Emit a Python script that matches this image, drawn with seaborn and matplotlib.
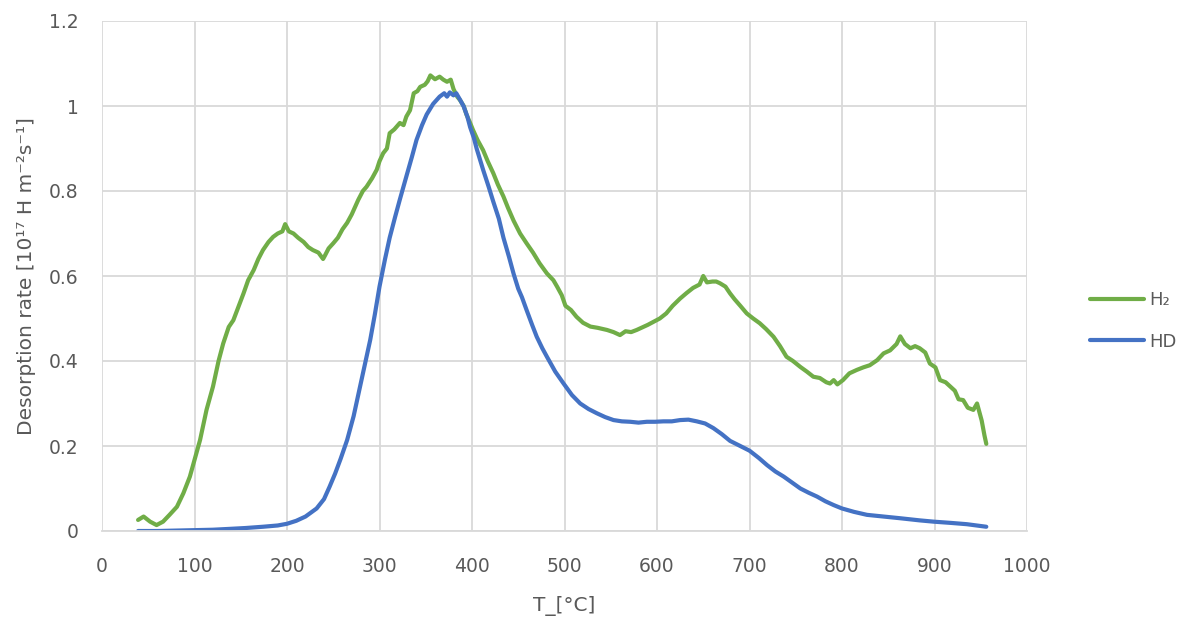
import matplotlib
matplotlib.use("Agg")
import matplotlib.pyplot as plt
import seaborn as sns
import pandas as pd

# ---- data ----
h2_T = [39, 45, 52, 59, 66, 73, 81, 88, 95, 100, 106, 113, 120, 126, 131, 137, 142, 148, 153, 158,
        164, 169, 174, 180, 185, 190, 195, 198, 202, 207, 212, 218, 223, 228, 234, 239, 241, 245, 250,
        255, 260, 265, 270, 277, 282, 286, 292, 297, 300, 304, 308, 311, 316, 322, 326, 329, 333, 337,
        341, 344, 349, 352, 355, 360, 365, 369, 373, 377, 380, 384, 387, 391, 394, 398, 401, 406, 412,
        417, 423, 428, 434, 439, 445, 452, 459, 466, 473, 481, 488, 492, 497, 501, 507, 513, 520, 528,
        536, 546, 553, 560, 566, 572, 578, 585, 590, 596, 603, 610, 617, 625, 632, 639, 646, 650, 654,
        660, 664, 668, 674, 679, 684, 690, 697, 704, 711, 718, 726, 733, 740, 747, 755, 762, 769, 776,
        783, 787, 791, 795, 801, 808, 816, 823, 830, 838, 845, 852, 859, 863, 868, 874, 879, 884, 890,
        895, 901, 906, 912, 917, 922, 926, 931, 936, 942, 946, 951, 954, 956]
h2_rate = [0.026, 0.034, 0.022, 0.014, 0.022, 0.038, 0.057, 0.089, 0.128, 0.167, 0.214, 0.285, 0.34,
           0.40, 0.441, 0.48, 0.496, 0.53, 0.559, 0.59, 0.614, 0.64, 0.661, 0.68, 0.692, 0.70, 0.705,
           0.722, 0.705, 0.70, 0.69, 0.68, 0.668, 0.661, 0.655, 0.64, 0.648, 0.665, 0.677, 0.69, 0.71,
           0.725, 0.745, 0.779, 0.80, 0.81, 0.83, 0.85, 0.87, 0.889, 0.90, 0.936, 0.945, 0.96, 0.955,
           0.975, 0.99, 1.03, 1.035, 1.045, 1.05, 1.058, 1.072, 1.063, 1.069, 1.062, 1.057, 1.062, 1.04,
           1.022, 1.014, 1.0, 0.98, 0.96, 0.944, 0.92, 0.896, 0.87, 0.842, 0.815, 0.787, 0.76, 0.73,
           0.70, 0.677, 0.655, 0.63, 0.606, 0.59, 0.575, 0.555, 0.53, 0.52, 0.504, 0.49, 0.481, 0.478,
           0.473, 0.468, 0.461, 0.47, 0.468, 0.473, 0.48, 0.485, 0.492, 0.50, 0.512, 0.53, 0.547, 0.56,
           0.572, 0.58, 0.60, 0.585, 0.587, 0.587, 0.583, 0.575, 0.559, 0.545, 0.53, 0.512, 0.50, 0.489,
           0.475, 0.457, 0.435, 0.41, 0.40, 0.386, 0.375, 0.363, 0.36, 0.35, 0.347, 0.355, 0.345, 0.355,
           0.371, 0.379, 0.385, 0.39, 0.402, 0.418, 0.425, 0.44, 0.458, 0.44, 0.43, 0.435, 0.43, 0.42,
           0.394, 0.385, 0.355, 0.35, 0.34, 0.33, 0.31, 0.308, 0.29, 0.285, 0.30, 0.26, 0.225, 0.205]

hd_T = [39, 60, 80, 100, 120, 138, 155, 174, 190, 200, 210, 220, 232, 240, 246, 252, 258, 265, 272,
        279, 285, 290, 295, 300, 306, 311, 317, 322, 329, 335, 340, 346, 351, 358, 365, 370, 373, 376,
        380, 383, 387, 391, 395, 398, 402, 405, 412, 418, 423, 429, 434, 440, 445, 450, 454, 459, 465,
        470, 476, 481, 490, 499, 508, 517, 526, 535, 544, 553, 562, 571, 580, 589, 598, 607, 616, 625,
        634, 643, 652, 661, 670, 679, 690, 700, 710, 719, 728, 737, 746, 755, 764, 773, 782, 791, 800,
        813, 827, 845, 863, 884, 899, 918, 935, 956]
hd_rate = [0.0, 0.0, 0.001, 0.002, 0.003, 0.005, 0.007, 0.01, 0.013, 0.017, 0.024, 0.034, 0.053,
           0.075, 0.104, 0.135, 0.17, 0.214, 0.27, 0.34, 0.40, 0.45, 0.51, 0.575, 0.64, 0.69, 0.74,
           0.78, 0.834, 0.88, 0.92, 0.955, 0.98, 1.005, 1.022, 1.03, 1.022, 1.032, 1.025, 1.03, 1.015,
           0.999, 0.975, 0.95, 0.925, 0.90, 0.85, 0.81, 0.775, 0.735, 0.69, 0.645, 0.605, 0.57, 0.55,
           0.52, 0.485, 0.457, 0.43, 0.41, 0.375, 0.347, 0.32, 0.30, 0.287, 0.277, 0.268, 0.261, 0.258,
           0.257, 0.255, 0.257, 0.257, 0.258, 0.258, 0.261, 0.262, 0.258, 0.253, 0.242, 0.228, 0.212,
           0.20, 0.189, 0.172, 0.155, 0.14, 0.128, 0.114, 0.10, 0.09, 0.081, 0.07, 0.061, 0.053, 0.045,
           0.038, 0.034, 0.03, 0.025, 0.022, 0.019, 0.016, 0.01]

series_names = ["H₂", "HD"]
series_colors = ["#70ad47", "#4472c4"]
x_ticks = [0, 100, 200, 300, 400, 500, 600, 700, 800, 900, 1000]
y_ticks = [0, 0.2, 0.4, 0.6, 0.8, 1.0, 1.2]
y_tick_labels = ["0", "0.2", "0.4", "0.6", "0.8", "1", "1.2"]
x_label = "T_[°C]"
y_label = "Desorption rate [10¹⁷ H m⁻²s⁻¹]"

df = pd.concat([
    pd.DataFrame({"T": h2_T, "rate": h2_rate, "series": series_names[0]}),
    pd.DataFrame({"T": hd_T, "rate": hd_rate, "series": series_names[1]}),
], ignore_index=True)

sns.set_theme(style="white")
plt.rcParams["font.family"] = ["DejaVu Sans"]
text_color = "#595959"
grid_color = "#d9d9d9"

fig = plt.figure(figsize=(11.83, 6.19), dpi=100)
ax = fig.add_axes([102 / 1183, 1 - 531 / 619, 925 / 1183, 510 / 619])

sns.lineplot(data=df, x="T", y="rate", hue="series", hue_order=series_names,
             palette=dict(zip(series_names, series_colors)), sort=False, estimator=None,
             linewidth=3.0, ax=ax, legend=False)

ax.set_xlim(0, 1000)
ax.set_ylim(0, 1.2)
ax.set_xticks(x_ticks)
ax.set_xticklabels([str(t) for t in x_ticks])
ax.set_yticks(y_ticks)
ax.set_yticklabels(y_tick_labels)
ax.grid(True, color=grid_color, linewidth=1.3)
ax.set_axisbelow(True)
for s in ["top", "right", "left"]:
    ax.spines[s].set_visible(False)
ax.spines["bottom"].set_color(grid_color)
ax.spines["bottom"].set_linewidth(1.3)
ax.tick_params(axis="x", length=0, labelsize=13.5, colors=text_color, pad=19)
ax.tick_params(axis="y", length=0, labelsize=13.5, colors=text_color, pad=17)
ax.set_xlabel(x_label, fontsize=14.5, color=text_color, labelpad=14)
ax.set_ylabel(y_label, fontsize=14.5, color=text_color, labelpad=9)

handles = [plt.Line2D([], [], color=c, linewidth=3.0) for c in series_colors]
fig.legend(handles, series_names, loc="center left", bbox_to_anchor=(1074 / 1183, 1 - 321 / 619),
           frameon=False, fontsize=13, labelcolor=text_color, handlelength=3.0,
           handletextpad=0.25, labelspacing=1.3)

fig.savefig("out.png", dpi=100)
